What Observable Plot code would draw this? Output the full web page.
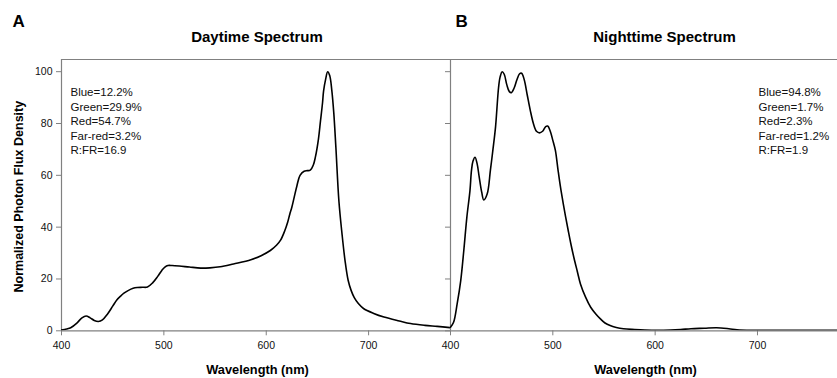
<!DOCTYPE html>
<html><head><meta charset="utf-8">
<script src="https://cdn.jsdelivr.net/npm/d3@7"></script>
<script src="https://cdn.jsdelivr.net/npm/@observablehq/plot@0.6"></script>
<style>
body{margin:0;background:#fff;}
#wrap{position:relative;width:837px;height:378px;overflow:hidden;background:#fff;}
#wrap svg{position:absolute;top:0;}
</style></head><body><div id="wrap"></div>
<script>
// ---- data ----
const dayWavelength = [400,405,409,415,420,424,428,432,436,440,445,450,454,458,461,465,470,474,479,484,489,494,498,501,504,508,515,525,536,545,555,568,585,595,604,610,614,618,621,623,625,627,630,633,637,640,643,646,648,651,653,655,656,658,660,662,664,666,668,671,674,677,680,683,686,690,695,705,715,730,741,755,767,780];
const dayFlux = [0.3,0.7,1.2,3,5,5.7,5,4,3.6,4.2,6.5,9.5,11.9,13.5,14.5,15.5,16.4,16.7,16.8,16.9,18.5,21,23.3,24.6,25.2,25.2,25,24.6,24.2,24.3,24.7,25.8,27.4,29,31,33,35,38.5,42,45,47.7,51,56,60,61.6,61.8,62,64,67,74,81,88,92.5,97,100,98.5,93,84,71,50,37.5,27,19.5,15.5,12.8,10.5,8.6,6.7,5.3,3.8,2.8,2.1,1.7,1.2];
const nightWavelength = [400,403,406.5,410,413,416,419,420.5,422,424,426,428,430.5,432.5,435.9,439,441.5,444,447,448.5,450.5,452.5,455,457.5,459.5,462,465,467.5,469.5,472,475,478,481,484,487,490,493,495,497.5,500,502.5,505,507.5,510,512.5,515,517.5,520.5,524,527,532,537,542,546.5,551,556,562,569,580,590,602,615,625,635,648,660,672,680,695,720,750,780];
const nightFlux = [1.4,3.3,10.4,19.4,31,43.9,54,61.9,65.5,67,64.5,59.5,53.5,50.5,52.9,62,70,78.6,94,98,100,99,95,92.3,91.9,93.5,97,99.2,99.4,97,91,85,80,77,76.4,77,78.8,79,77,73.5,69.6,62.3,55.4,49.5,44,38.8,33.8,28.4,22.8,18.1,13,9.1,6.5,4.6,3,2,1.3,0.8,0.5,0.3,0.2,0.3,0.5,0.8,1.0,1.2,0.8,0.4,0.2,0.2,0.2,0.2];
const yTicks = [0,20,40,60,80,100];
const xTicks = [400,500,600,700];
const dayStats = ["Blue=12.2%","Green=29.9%","Red=54.7%","Far-red=3.2%","R:FR=16.9"];
const nightStats = ["Blue=94.8%","Green=1.7%","Red=2.3%","Far-red=1.2%","R:FR=1.9"];
const panelLabels = ["A","B"];
const panelTitles = ["Daytime Spectrum","Nighttime Spectrum"];
const xLabel = "Wavelength (nm)";
const yLabel = "Normalized Photon Flux Density";

const FONT = "Arial, 'Liberation Sans', sans-serif";
const GRAY = "#808080";
const YMAX = 104.7;
const STAT_FS = 11.5;
const day = dayWavelength.map((w, i) => ({w, f: dayFlux[i]}));
const night = nightWavelength.map((w, i) => ({w, f: nightFlux[i]}));

const common = {height: 378, marginTop: 59, marginBottom: 47.7, marginRight: 0,
  style: {fontFamily: FONT, background: "transparent", overflow: "visible"}};

const plotA = Plot.plot({
  ...common, width: 450, marginLeft: 61,
  x: {domain: [400, 780]}, y: {domain: [0, YMAX]},
  marks: [
    Plot.ruleY([YMAX], {stroke: GRAY, strokeWidth: 1.2}),
    Plot.axisY({ticks: yTicks, tickSize: 5, tickPadding: 4, fontSize: 10.5, stroke: GRAY, fill: "#111", label: null}),
    Plot.axisX({ticks: xTicks, tickSize: 5, tickPadding: 6, fontSize: 10.5, stroke: GRAY, fill: "#111", label: null}),
    Plot.ruleX([400], {stroke: GRAY, strokeWidth: 1.2}),
    Plot.ruleY([0], {stroke: GRAY, strokeWidth: 1.2}),
    Plot.line(day, {x: "w", y: "f", curve: "catmull-rom", stroke: "#000", strokeWidth: 1.6, clip: true}),
    Plot.text([panelLabels[0]], {text: d => d, frameAnchor: "top-left", dx: -49, dy: -33, fontSize: 17, fontWeight: "bold", textAnchor: "start", lineAnchor: "bottom", fill: "#000"}),
    Plot.text([panelTitles[0]], {text: d => d, frameAnchor: "top", dx: 1, dy: -17.5, fontSize: 15, fontWeight: "bold", textAnchor: "middle", lineAnchor: "bottom", fill: "#000"}),
    Plot.text([dayStats.join("\n")], {text: d => d, frameAnchor: "top-left", dx: 9, dy: 94.5, fontSize: STAT_FS, lineHeight: 14.5 / STAT_FS, textAnchor: "start", lineAnchor: "bottom", fill: "#111"}),
    Plot.text([xLabel], {text: d => d, frameAnchor: "bottom", dx: 1.5, dy: 42.7, fontSize: 12.8, fontWeight: "bold", textAnchor: "middle", lineAnchor: "bottom", fill: "#000"}),
    Plot.text([yLabel], {text: d => d, frameAnchor: "left", dx: -43, dy: 1.5, rotate: -90, fontSize: 12.5, fontWeight: "bold", textAnchor: "middle", lineAnchor: "middle", fill: "#000"})
  ]
});

const plotB = Plot.plot({
  ...common, width: 397, marginLeft: 10,
  x: {domain: [400, 778.2]}, y: {domain: [0, YMAX]},
  marks: [
    Plot.ruleY([YMAX], {stroke: GRAY, strokeWidth: 1.2}),
    Plot.axisY({ticks: yTicks, tickSize: 5, tickFormat: () => "", stroke: GRAY, label: null}),
    Plot.axisX({ticks: xTicks, tickSize: 5, tickPadding: 6, fontSize: 10.5, stroke: GRAY, fill: "#111", label: null}),
    Plot.ruleX([400], {stroke: GRAY, strokeWidth: 1.2}),
    Plot.ruleY([0], {stroke: GRAY, strokeWidth: 1.2}),
    Plot.line(night, {x: "w", y: "f", curve: "catmull-rom", stroke: "#000", strokeWidth: 1.6, clip: true}),
    Plot.text([panelLabels[1]], {text: d => d, frameAnchor: "top-left", dx: 5, dy: -33, fontSize: 17, fontWeight: "bold", textAnchor: "start", lineAnchor: "bottom", fill: "#000"}),
    Plot.text([panelTitles[1]], {text: d => d, frameAnchor: "top-left", dx: 214, dy: -17.5, fontSize: 15, fontWeight: "bold", textAnchor: "middle", lineAnchor: "bottom", fill: "#000"}),
    Plot.text([nightStats.join("\n")], {text: d => d, frameAnchor: "top-left", dx: 308, dy: 94.5, fontSize: STAT_FS, lineHeight: 14.5 / STAT_FS, textAnchor: "start", lineAnchor: "bottom", fill: "#111"}),
    Plot.text([xLabel], {text: d => d, frameAnchor: "bottom-left", dx: 195, dy: 42.7, fontSize: 12.8, fontWeight: "bold", textAnchor: "middle", lineAnchor: "bottom", fill: "#000"})
  ]
});

const wrap = document.getElementById("wrap");
plotA.style.left = "0px";
plotB.style.left = "440px";
wrap.appendChild(plotA);
wrap.appendChild(plotB);
</script></body></html>
